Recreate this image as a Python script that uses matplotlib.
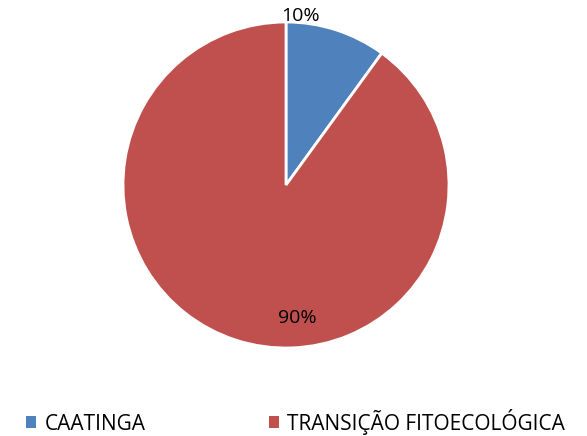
import matplotlib.pyplot as plt
from matplotlib.patches import Patch

categories = ["CAATINGA", "TRANSIÇÃO FITOECOLÓGICA"]
values = [10, 90]
colors = ["#4F81BD", "#C0504D"]

plt.rcParams['font.family'] = ['Open Sans', 'DejaVu Sans']

fig = plt.figure(figsize=(5.87, 4.36), dpi=100)
# pie centred at about (286, 185) px, radius 163 px
ax = fig.add_axes([123 / 587, 88 / 436, 326 / 587, 326 / 436])
wedges, _ = ax.pie(values, colors=colors, startangle=90, counterclock=False,
                   wedgeprops=dict(edgecolor="white", linewidth=2))
ax.set_xlim(-1, 1)
ax.set_ylim(-1, 1)
ax.set_aspect("equal")
ax.axis("off")

# percentage labels
total = sum(values)
label_pos = [(0.09, 1.035), (0.07, -0.815)]
for v, (x, y) in zip(values, label_pos):
    ax.text(x, y, f"{round(100 * v / total)}%", ha="center", va="center",
            fontsize=14, color="black", clip_on=False)

handles = [Patch(facecolor=c, edgecolor="none") for c in colors]
fig.legend(handles, categories, loc="lower left", bbox_to_anchor=(26 / 587, 0.003),
           ncol=2, frameon=False, fontsize=15, handlelength=0.5,
           handleheight=0.5, handletextpad=0.4, columnspacing=5.9,
           borderpad=0, borderaxespad=0)

fig.savefig("out.png", dpi=100)
